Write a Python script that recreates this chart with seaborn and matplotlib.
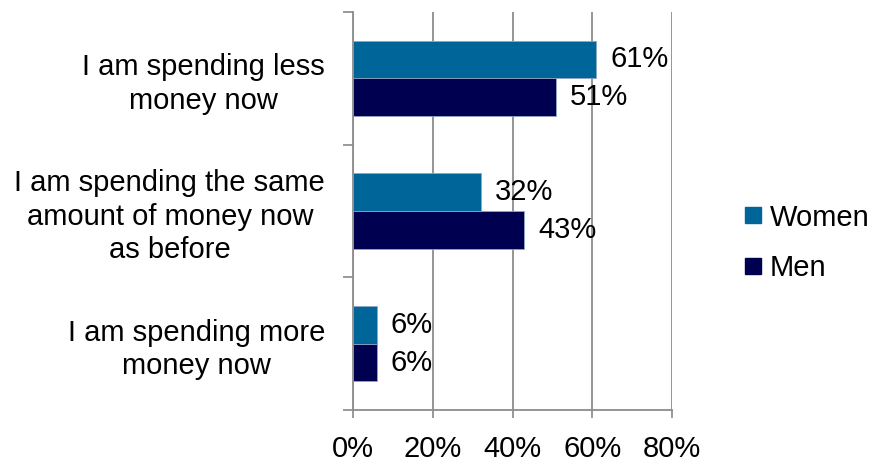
import matplotlib
matplotlib.use("Agg")
import matplotlib.pyplot as plt
import seaborn as sns
import pandas as pd
from matplotlib.lines import Line2D

categories = [
    "I am spending less\nmoney now",
    "I am spending the same\namount of money now\nas before",
    "I am spending more\nmoney now",
]
series_names = ["Women", "Men"]
women = [61, 32, 6]
men = [51, 43, 6]
x_ticks = [0, 20, 40, 60, 80]
colors = {"Women": "#006699", "Men": "#000050"}

sns.set_style("white")
plt.rcParams["font.family"] = ["Liberation Sans", "DejaVu Sans"]
plt.rcParams["text.color"] = "black"
plt.rcParams["xtick.labelcolor"] = "black"
plt.rcParams["ytick.labelcolor"] = "black"

FS = 21

df = pd.DataFrame({
    "category": categories * 2,
    "group": ["Women"] * 3 + ["Men"] * 3,
    "value": women + men,
})

fig = plt.figure(figsize=(8.81, 4.66), dpi=100)
ax = fig.add_axes([353 / 881, 1 - 410 / 466, (672 - 353) / 881, (410 - 12) / 466])

sns.barplot(data=df, y="category", x="value", hue="group", order=categories,
            hue_order=series_names, palette=colors, orient="h", width=0.57,
            dodge=True, ax=ax, legend=False, saturation=1,
            edgecolor="#8fa6c4", linewidth=0.6)

for cont in ax.containers:
    ax.bar_label(cont, labels=[f"{int(v)}%" for v in cont.datavalues],
                 padding=10, fontsize=FS, color="black")

ax.set_xlim(0, 80)
ax.set_ylim(2.5, -0.5)
ax.set_xticks(x_ticks)
ax.set_xticklabels([f"{t}%" for t in x_ticks], fontsize=FS, color="black")
ax.set_yticks([-0.5, 0.5, 1.5, 2.5])
ax.set_yticklabels([])
ax.set_yticks(range(len(categories)), minor=True)
ax.set_yticklabels(categories, minor=True, fontsize=FS, ha="right", color="black",
                   multialignment="center", linespacing=1.25)
ax.tick_params(axis="y", which="major", length=7, width=1.2, color="#888888", left=True)
ax.tick_params(axis="y", which="minor", length=0, pad=20)
ax.tick_params(axis="x", length=6, width=1.2, color="#888888", bottom=True, pad=12)
ax.set_xlabel("")
ax.set_ylabel("")

ax.grid(axis="x", color="#8c8c8c", linewidth=1.3)
ax.set_axisbelow(True)
for side in ("top", "right"):
    ax.spines[side].set_visible(False)
for side in ("left", "bottom"):
    ax.spines[side].set_color("#8c8c8c")
    ax.spines[side].set_linewidth(1.3)

handles = [Line2D([0], [0], marker="s", linestyle="", markersize=11,
                  markerfacecolor=colors[n], markeredgecolor=colors[n])
           for n in series_names]
leg = fig.legend(handles, series_names, loc="center left",
                 bbox_to_anchor=(738 / 881, 1 - 243 / 466),
                 frameon=False, fontsize=FS, handletextpad=0.1, labelspacing=0.78,
                 handlelength=1.0, borderaxespad=0, borderpad=0)
for t in leg.get_texts():
    t.set_color("black")

fig.savefig("out.png", dpi=100)
